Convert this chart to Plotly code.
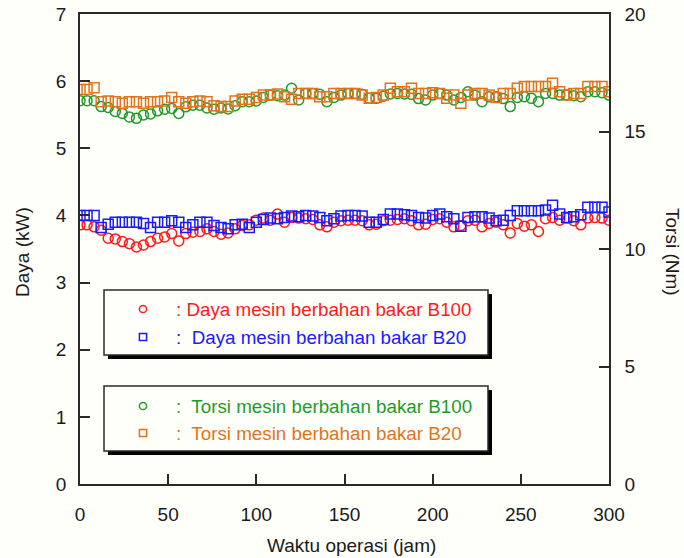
import plotly.graph_objects as go

# ---------------- data ----------------
hours = list(range(0, 301, 4))

daya_b100 = [3.86, 3.86, 3.83, 3.78, 3.66, 3.65, 3.61, 3.58, 3.53, 3.56, 3.61, 3.66, 3.68, 3.73, 3.62, 3.73,
             3.75, 3.76, 3.80, 3.76, 3.72, 3.74, 3.80, 3.85, 3.86, 3.93, 3.96, 3.93, 4.02, 3.90, 3.97, 3.96,
             3.95, 3.94, 3.86, 3.83, 3.90, 3.92, 3.93, 3.93, 3.92, 3.86, 3.87, 3.92, 3.93, 3.94, 3.95, 3.92,
             3.86, 3.87, 3.94, 3.95, 3.90, 3.83, 3.85, 3.92, 3.93, 3.83, 3.88, 3.90, 3.86, 3.74, 3.88, 3.84,
             3.86, 3.76, 3.95, 3.97, 3.93, 3.96, 3.92, 3.86, 3.96, 3.97, 3.96, 3.93]

daya_b20 = [4.00, 4.00, 4.00, 3.82, 3.87, 3.90, 3.90, 3.90, 3.90, 3.88, 3.82, 3.90, 3.90, 3.92, 3.90, 3.82,
            3.86, 3.90, 3.90, 3.85, 3.82, 3.80, 3.86, 3.87, 3.82, 3.90, 3.94, 3.96, 3.95, 3.97, 3.99, 3.98,
            4.00, 3.99, 3.97, 3.92, 3.95, 3.99, 4.00, 4.00, 3.99, 3.90, 3.90, 3.94, 4.02, 4.02, 4.01, 4.00,
            3.97, 3.96, 4.00, 4.02, 3.98, 3.95, 3.84, 3.97, 3.98, 3.98, 3.96, 3.92, 3.93, 4.00, 4.07, 4.07,
            4.07, 4.07, 4.08, 4.15, 4.02, 3.97, 3.98, 4.01, 4.12, 4.12, 4.12, 4.05]

torsi_b100 = [16.31, 16.31, 16.31, 16.06, 16.02, 15.85, 15.77, 15.62, 15.56, 15.70, 15.75, 15.88, 15.95, 15.98,
              15.77, 16.05, 16.12, 16.12, 16.00, 15.95, 16.00, 15.96, 16.10, 16.27, 16.27, 16.30, 16.45, 16.55,
              16.52, 16.55, 16.84, 16.34, 16.62, 16.62, 16.58, 16.27, 16.45, 16.55, 16.62, 16.62, 16.58, 16.41,
              16.41, 16.50, 16.60, 16.62, 16.60, 16.58, 16.40, 16.34, 16.55, 16.62, 16.55, 16.34, 16.45, 16.69,
              16.55, 16.27, 16.48, 16.48, 16.40, 16.06, 16.45, 16.48, 16.41, 16.27, 16.62, 16.62, 16.55, 16.55,
              16.52, 16.48, 16.69, 16.69, 16.65, 16.55]

torsi_b20 = [16.79, 16.79, 16.86, 16.27, 16.30, 16.27, 16.20, 16.27, 16.27, 16.20, 16.27, 16.27, 16.30, 16.45,
             16.27, 16.20, 16.27, 16.30, 16.27, 16.10, 16.06, 16.06, 16.30, 16.37, 16.37, 16.45, 16.55, 16.55,
             16.60, 16.48, 16.37, 16.62, 16.62, 16.62, 16.48, 16.48, 16.62, 16.62, 16.62, 16.62, 16.55, 16.41,
             16.45, 16.55, 16.84, 16.69, 16.69, 16.84, 16.62, 16.62, 16.65, 16.62, 16.41, 16.55, 16.20, 16.55,
             16.62, 16.62, 16.55, 16.45, 16.62, 16.62, 16.84, 16.91, 16.91, 16.91, 16.91, 17.05, 16.69, 16.55,
             16.62, 16.62, 16.91, 16.91, 16.91, 16.69]

legend_labels = [": Daya mesin berbahan bakar B100", ":  Daya mesin berbahan bakar B20",
                 ":  Torsi mesin berbahan bakar B100", ":  Torsi mesin berbahan bakar B20"]
x_title = "Waktu operasi (jam)"
y_title = "Daya (kW)"
y2_title = "Torsi (Nm)"

# ---------------- style ----------------
RED, BLUE, GREEN, ORANGE = "#ff1a1a", "#1a1aff", "#1f9a2a", "#e0741e"
BG = "#fffffa"
AXC = "#2a2a2a"
TXT = "#1a1a1a"
FONT = "Liberation Sans, Arial, sans-serif"
W, H = 684, 558
L, R, T, B = 80, 609, 14, 484


def px(x):
    return (x - L) / (R - L)


def py(y):
    return (B - y) / (B - T)


fig = go.Figure()
mk = dict(size=10, line=dict(width=1.5))
fig.add_trace(go.Scatter(x=hours, y=torsi_b100, yaxis="y2", mode="markers",
                         marker=dict(symbol="circle-open", color=GREEN, **mk)))
fig.add_trace(go.Scatter(x=hours, y=torsi_b20, yaxis="y2", mode="markers",
                         marker=dict(symbol="square-open", color=ORANGE, **mk)))
fig.add_trace(go.Scatter(x=hours, y=daya_b100, mode="markers",
                         marker=dict(symbol="circle-open", color=RED, **mk)))
fig.add_trace(go.Scatter(x=hours, y=daya_b20, mode="markers",
                         marker=dict(symbol="square-open", color=BLUE, **mk)))

axis_common = dict(showline=True, linecolor=AXC, linewidth=1.5, ticks="inside", ticklen=10,
                   tickwidth=1.5, tickcolor=AXC, showgrid=False, zeroline=False, automargin=False,
                   tickfont=dict(family=FONT, size=19, color=TXT))

fig.update_layout(
    width=W, height=H,
    margin=dict(l=L, r=W - R, t=T, b=H - B, pad=0, autoexpand=False),
    paper_bgcolor=BG, plot_bgcolor=BG,
    showlegend=False,
    xaxis=dict(range=[0, 300], dtick=50, mirror=True, ticklabelstandoff=12, **axis_common),
    yaxis=dict(range=[0, 7], dtick=1, mirror=True, ticklabelstandoff=8, **axis_common),
    yaxis2=dict(range=[0, 20], dtick=5, overlaying="y", side="right", ticklabelstandoff=10,
                **axis_common),
)

shapes = []
annotations = []
rows = [(309, RED, "circle"), (337, BLUE, "rect"), (406, GREEN, "circle"), (433, ORANGE, "rect")]
for (y0, y1) in [(290, 355), (386, 451)]:
    shapes.append(dict(type="rect", xref="paper", yref="paper", x0=px(108), x1=px(492),
                       y0=py(y1 + 4), y1=py(y0 + 4), fillcolor="black", line=dict(width=0), layer="above"))
    shapes.append(dict(type="rect", xref="paper", yref="paper", x0=px(104), x1=px(488),
                       y0=py(y1), y1=py(y0), fillcolor=BG, line=dict(color=AXC, width=1.5), layer="above"))
for (yc, col, kind), lab in zip(rows, legend_labels):
    r = 3.6
    shapes.append(dict(type=kind, xref="paper", yref="paper", x0=px(143 - r), x1=px(143 + r),
                       y0=py(yc + r), y1=py(yc - r), line=dict(color=col, width=1.5), layer="above"))
    annotations.append(dict(text=lab, xref="paper", yref="paper", x=px(174), y=py(yc),
                            xanchor="left", yanchor="middle", showarrow=False,
                            font=dict(family=FONT, size=18.8, color=col)))

annotations += [
    dict(text=x_title, xref="paper", yref="paper", x=px(351), y=py(545), xanchor="center",
         yanchor="middle", showarrow=False, font=dict(family=FONT, size=19, color=TXT)),
    dict(text=y_title, xref="paper", yref="paper", x=px(23), y=py(252), xanchor="center",
         yanchor="middle", textangle=-90, showarrow=False, font=dict(family=FONT, size=19, color=TXT)),
    dict(text=y2_title, xref="paper", yref="paper", x=px(672), y=py(252), xanchor="center",
         yanchor="middle", textangle=90, showarrow=False, font=dict(family=FONT, size=19, color=TXT)),
]
fig.update_layout(shapes=shapes, annotations=annotations)

fig.write_html("out.html", config={"displayModeBar": False},
               post_script="document.body.style.margin='0';document.body.style.overflow='hidden';")
